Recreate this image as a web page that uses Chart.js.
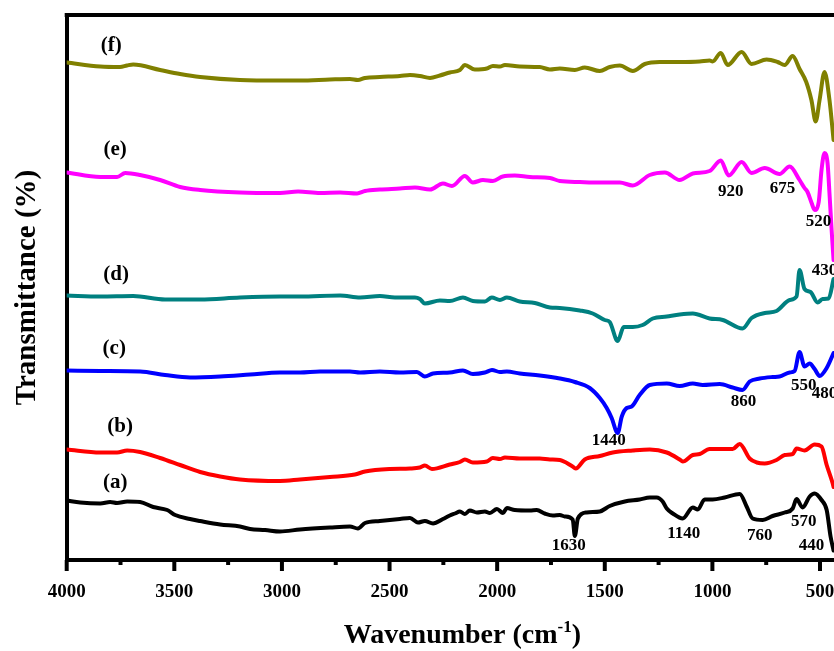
<!DOCTYPE html>
<html>
<head>
<meta charset="utf-8">
<script src="https://cdn.jsdelivr.net/npm/chart.js@4/dist/chart.umd.min.js"></script>
<style>
  html, body { margin: 0; padding: 0; background: #ffffff; overflow: hidden; }
  #wrap { width: 834px; height: 651px; }
</style>
</head>
<body>
<div id="wrap"><canvas id="c" width="834" height="651"></canvas></div>
<script>
// ---------- Data ----------
const xTicks = [4000, 3500, 3000, 2500, 2000, 1500, 1000, 500];
const seriesNames = ['(a)', '(b)', '(c)', '(d)', '(e)', '(f)'];

const wnA = [4000,3937,3844,3798,3766,3719,3659,3598,3533,3496,3427,3380,3287,3195,3148,3078,3009,2916,2777,2684,2647,2614,2545,2452,2405,2368,2336,2298,2252,2220,2196,2173,2150,2127,2094,2057,2034,2001,1973,1955,1918,1848,1816,1779,1741,1709,1686,1649,1639,1625,1584,1523,1477,1407,1338,1291,1259,1231,1212,1184,1138,1091,1068,1036,999,943,873,841,813,766,720,664,627,609,581,548,525,493,469,451,437];
const tA  = [11.9,11.5,11.3,11.6,11.4,11.7,11.6,10.6,10.0,9.0,8.2,7.8,7.1,6.7,6.2,6.0,5.7,6.1,6.5,6.7,6.3,7.4,7.8,8.2,8.4,7.5,7.8,7.3,8.2,8.9,9.3,9.7,9.2,9.9,9.5,9.7,9.4,10.2,9.4,10.4,10.0,9.9,10.0,9.3,8.9,9.0,8.7,8.1,4.8,8.3,9.5,9.7,10.8,11.7,12.1,12.5,12.5,11.7,10.3,9.3,8.3,10.5,10.1,12.1,12.1,12.5,13.2,10.7,8.3,8.0,8.8,9.5,10.3,12.2,10.5,12.7,13.3,12.0,10.0,4.7,1.9];

const wnB = [4000,3844,3766,3719,3659,3566,3473,3380,3287,3195,3009,2916,2777,2661,2614,2498,2405,2359,2336,2303,2220,2173,2150,2113,2048,2020,1987,1964,1895,1802,1755,1709,1653,1635,1593,1523,1463,1370,1291,1212,1152,1138,1091,1059,1013,906,873,827,794,757,702,664,627,609,572,525,493,469,441,437];
const tB  = [22.1,21.5,21.5,21.9,21.6,20.4,19.0,17.6,16.7,16.1,15.8,16.1,16.6,17.1,17.7,18.2,18.3,18.5,18.9,18.2,19.1,19.6,20.1,19.5,19.7,20.4,20.2,20.5,20.3,20.3,20.1,20.0,18.8,18.3,20.1,20.8,21.5,21.9,22.1,21.5,20.1,19.7,21.0,21.2,22.2,22.2,23.2,20.3,19.5,19.3,20.0,21.0,21.2,22.3,21.9,23.1,22.7,19.0,15.3,14.6];

const wnC = [4000,3844,3659,3543,3427,3287,3148,3009,2916,2823,2684,2637,2545,2452,2373,2336,2298,2220,2159,2113,2057,2024,1987,1955,1895,1802,1709,1639,1570,1523,1491,1468,1440,1421,1398,1375,1338,1291,1212,1152,1091,1045,966,906,860,827,780,720,688,641,618,595,572,548,525,502,469,437];
const tC  = [37.9,37.8,37.7,37.0,36.5,36.7,37.1,37.5,37.5,37.7,37.7,37.5,37.7,37.5,37.6,36.7,37.3,37.5,37.9,37.2,37.5,38.0,37.6,37.7,37.3,36.9,36.3,35.6,34.4,32.4,30.4,28.4,25.4,28.7,30.4,30.7,33.0,35.0,35.3,34.8,35.3,35.0,35.2,34.5,34.0,35.7,36.3,36.6,36.7,37.5,37.8,41.6,38.7,39.3,38.2,36.8,38.4,41.4];

const wnD = [4000,3844,3691,3543,3380,3195,3009,2916,2730,2637,2545,2475,2382,2359,2336,2266,2220,2159,2113,2057,2025,1987,1955,1895,1825,1755,1709,1616,1556,1500,1477,1440,1412,1370,1324,1277,1212,1152,1091,1013,952,860,818,757,702,641,609,595,572,544,511,488,460,437];
const tD  = [52.9,52.7,52.8,52.1,52.1,52.5,52.7,52.7,52.9,52.5,52.8,52.5,52.5,52.2,51.3,51.9,51.8,52.5,51.8,51.7,52.5,52.0,52.5,51.7,51.4,50.5,50.4,49.9,49.3,48.0,47.6,43.8,46.6,46.6,47.0,48.3,48.7,49.1,49.3,48.3,48.0,46.3,48.4,49.4,49.8,52.0,52.7,58.0,54.2,53.6,51.5,52.2,52.3,56.2];

const wnE = [4000,3844,3766,3728,3659,3566,3473,3380,3195,3009,2925,2823,2730,2651,2614,2545,2452,2382,2312,2252,2210,2150,2113,2066,2020,1974,1918,1848,1755,1709,1616,1523,1430,1370,1291,1221,1152,1091,1013,961,924,864,818,757,688,641,595,572,558,539,525,506,493,479,465,455,446,437];
const tE  = [77.5,76.6,76.6,77.4,77.0,76.0,74.6,74.0,73.5,73.4,73.7,73.4,73.5,73.3,73.8,74.1,74.3,74.5,74.1,75.3,74.8,76.8,75.5,76.0,75.8,76.7,76.9,76.6,76.4,75.8,75.6,75.5,75.5,74.9,77.0,77.5,76.0,77.3,77.8,79.9,76.9,79.6,77.4,78.4,77.2,78.7,76.0,74.4,73.6,71.4,70.0,71.6,78.0,81.4,79.4,72.6,66.0,60.0];

const wnF = [4000,3844,3752,3720,3691,3566,3473,3380,3195,3009,2916,2777,2684,2647,2614,2545,2452,2405,2359,2312,2266,2220,2173,2150,2104,2048,2020,1987,1964,1895,1802,1755,1709,1639,1593,1523,1477,1430,1370,1314,1245,1152,1059,1013,999,961,929,864,818,748,697,664,627,595,564,540,520,502,479,456,437];
const tF  = [99.5,98.7,98.6,98.9,99.1,98.0,97.2,96.6,96.0,95.9,95.9,96.1,96.2,96.0,96.4,96.6,96.8,97.0,96.8,96.4,96.9,97.5,98.0,99.0,98.1,98.3,98.8,98.7,99.0,98.7,98.6,98.1,98.3,98.0,98.5,97.8,98.6,98.9,97.8,99.2,99.6,99.6,99.7,99.9,99.7,101.4,99.0,101.6,99.2,100.1,99.6,99.0,100.8,98.2,95.6,92.0,87.7,92.0,97.6,92.0,84.0];

// Peak annotation texts and the series-tag texts (anchors given in data units)
const peakTexts = ['1630','1140','760','570','440','1440','860','550','480','430','520','920','675'];
const peakAnchorsWn = [1667,1133,780,576,539,1481,855,576,479,479,507,915,674];
const peakAnchorsT  = [2.8,5.2,4.8,7.6,2.8,23.8,31.6,34.8,33.2,57.8,67.7,73.6,74.2];
const tagAnchorsWn = [3775,3752,3779,3770,3775,3793];
const tagAnchorsT  = [15.4,26.6,42.2,57.0,82.0,102.8];

const colors = ['#000000', '#ff0000', '#0000ff', '#008080', '#ff00ff', '#808000'];
const allWn = [wnA, wnB, wnC, wnD, wnE, wnF];
const allT  = [tA, tB, tC, tD, tE, tF];

// ---------- Chart ----------
const SERIF = "'Liberation Serif', 'Times New Roman', serif";

const datasets = allWn.map((wn, i) => ({
  label: seriesNames[i],
  data: wn.map((w, j) => ({ x: w, y: allT[i][j] })),
  borderColor: colors[i],
  backgroundColor: colors[i],
  borderWidth: 4,
  pointRadius: 0,
  fill: false,
  cubicInterpolationMode: 'monotone',
  borderJoinStyle: 'round',
  borderCapStyle: 'round'
}));

const framePlugin = {
  id: 'frameAndText',
  afterDraw(chart) {
    const ctx = chart.ctx;
    const area = chart.chartArea;
    const xs = chart.scales.x, ys = chart.scales.y;
    ctx.save();
    // top frame line
    ctx.strokeStyle = '#000';
    ctx.lineWidth = 4;
    ctx.beginPath();
    ctx.moveTo(area.left - 2, area.top);
    ctx.lineTo(area.right + 2, area.top);
    ctx.stroke();
    // x tick marks (major every 500, minor every 250)
    ctx.lineWidth = 4;
    for (let v = 4000; v >= 500; v -= 250) {
      const px = xs.getPixelForValue(v);
      const major = v % 500 === 0;
      ctx.beginPath();
      ctx.moveTo(px, area.bottom);
      ctx.lineTo(px, area.bottom + (major ? 11 : 5));
      ctx.stroke();
    }
    // series tags
    ctx.fillStyle = '#000';
    ctx.textAlign = 'center';
    ctx.textBaseline = 'middle';
    ctx.font = 'bold 21px ' + SERIF;
    seriesNames.forEach((s, i) => {
      ctx.fillText(s, xs.getPixelForValue(tagAnchorsWn[i]), ys.getPixelForValue(tagAnchorsT[i]));
    });
    // peak labels
    ctx.font = 'bold 17px ' + SERIF;
    peakTexts.forEach((s, i) => {
      ctx.fillText(s, xs.getPixelForValue(peakAnchorsWn[i]), ys.getPixelForValue(peakAnchorsT[i]));
    });
    // x axis title with superscript
    const big = 'bold 28px ' + SERIF, small = 'bold 17px ' + SERIF;
    const p1 = 'Wavenumber (cm', p2 = '-1', p3 = ')';
    ctx.font = big; const w1 = ctx.measureText(p1).width, w3 = ctx.measureText(p3).width;
    ctx.font = small; const w2 = ctx.measureText(p2).width;
    const total = w1 + w2 + w3;
    const cx = (area.left + area.right) / 2 + 12;
    const base = 643;
    let x0 = cx - total / 2;
    ctx.textAlign = 'left';
    ctx.textBaseline = 'alphabetic';
    ctx.font = big; ctx.fillText(p1, x0, base);
    ctx.font = small; ctx.fillText(p2, x0 + w1, base - 11);
    ctx.font = big; ctx.fillText(p3, x0 + w1 + w2, base);
    ctx.restore();
  }
};

new Chart(document.getElementById('c'), {
  type: 'line',
  data: { datasets },
  options: {
    responsive: false,
    animation: false,
    devicePixelRatio: 1,
    layout: { padding: { top: 15, right: 0, bottom: 0, left: 0 } },
    plugins: { legend: { display: false }, tooltip: { enabled: false }, title: { display: false } },
    scales: {
      x: {
        type: 'linear',
        reverse: true,
        min: 435,
        max: 4000,
        afterBuildTicks: (s) => { s.ticks = xTicks.slice().sort((a, b) => a - b).map(v => ({ value: v })); },
        afterFit: (s) => { s.height = 91; },
        grid: { display: false, drawTicks: false },
        border: { display: true, color: '#000', width: 4 },
        ticks: {
          autoSkip: false,
          maxRotation: 0,
          padding: 21,
          color: '#000',
          font: { family: SERIF, size: 19, weight: 'bold' },
          callback: (v) => String(v)
        },
        title: { display: false }
      },
      y: {
        min: 0,
        max: 109,
        afterFit: (s) => { s.width = 66.7; },
        grid: { display: false, drawTicks: false },
        border: { display: true, color: '#000', width: 4 },
        ticks: { display: false },
        title: {
          display: true,
          text: 'Transmittance (%)',
          color: '#000',
          font: { family: SERIF, size: 29, weight: 'bold' },
          padding: { top: 10, bottom: 0 }
        }
      }
    }
  },
  plugins: [framePlugin]
});
</script>
</body>
</html>
